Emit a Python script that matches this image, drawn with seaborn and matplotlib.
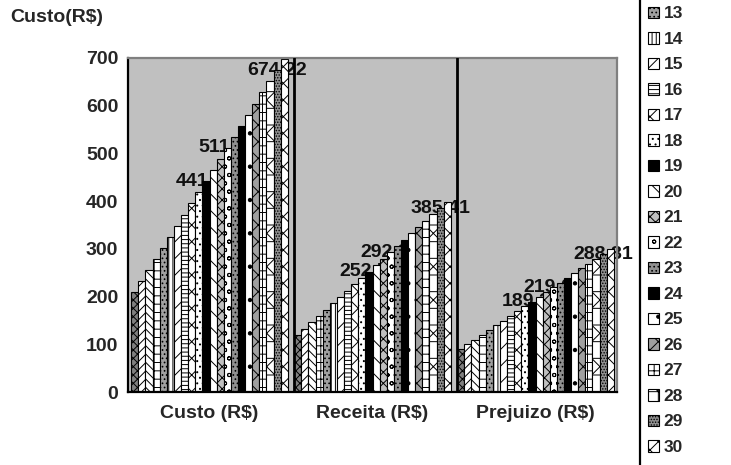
import matplotlib
matplotlib.use("Agg")
import matplotlib.pyplot as plt
from matplotlib.lines import Line2D
import pandas as pd
import seaborn as sns

# ---------------- data ----------------
categories = ["Custo (R$)", "Receita (R$)", "Prejuizo (R$)"]
series_names = ["9", "10", "11", "12", "13", "14", "15", "16", "17", "18", "19",
                "20", "21", "22", "23", "24", "25", "26", "27", "28", "29", "30"]
custo = [209.24, 232.49, 255.74, 278.99, 302.24, 325.49, 348.74, 371.98, 395.23,
         418.48, 441.73, 464.98, 488.23, 511.46, 534.73, 557.98, 581.23, 604.47,
         627.72, 650.97, 674.22, 697.47]
receita = [119.61, 132.90, 146.19, 159.48, 172.77, 186.06, 199.35, 212.64, 225.93,
           239.22, 252.51, 265.80, 279.09, 292.38, 305.67, 318.96, 332.25, 345.54,
           358.83, 372.12, 385.41, 398.70]
prejuizo = [89.63, 99.59, 109.55, 119.51, 129.47, 139.43, 149.39, 159.34, 169.30,
            179.26, 189.22, 199.18, 209.14, 219.08, 229.06, 239.02, 248.98, 258.93,
            268.89, 278.85, 288.81, 298.77]
labeled_series = ["19", "22", "29"]
y_ticks = [0, 100, 200, 300, 400, 500, 600, 700]

# ---------------- styles ----------------
face_colors = ["#808080", "#ffffff", "#ffffff", "#ffffff", "#a0a0a0", "#ffffff",
               "#ffffff", "#ffffff", "#ffffff", "#ffffff", "#000000", "#ffffff",
               "#c0c0c0", "#ffffff", "#909090", "#000000", "#ffffff", "#a0a0a0",
               "#ffffff", "#ffffff", "#909090", "#ffffff"]
hatches = ["xxxx", "////", "\\\\\\\\", "++", "....", "||||", "//", "----", "xx", "...",
           "", "\\\\", "xxx", "oo", "....", "", ".", "xx", "++", "x+", "......", "xx"]

sns.set_style("white")
plt.rcParams["font.family"] = ["Liberation Sans", "DejaVu Sans"]
plt.rcParams["font.weight"] = "bold"
plt.rcParams["hatch.linewidth"] = 0.7

rows = []
for cat, vals in zip(categories, [custo, receita, prejuizo]):
    for s, v in zip(series_names, vals):
        rows.append({"cat": cat, "serie": s, "valor": v})
df = pd.DataFrame(rows)

W, H = 731, 465
fig = plt.figure(figsize=(W / 100, H / 100), dpi=100)
ax = fig.add_axes([128 / W, 1 - 392 / H, (617 - 128) / W, (392 - 58) / H])

sns.barplot(data=df, x="cat", y="valor", hue="serie", order=categories,
            hue_order=series_names, palette=face_colors, width=0.96,
            edgecolor="black", linewidth=0.8, saturation=1, errorbar=None,
            legend=False, ax=ax)

for i, cont in enumerate(ax.containers):
    for p in cont:
        p.set_hatch(hatches[i])
        p.set_zorder(2)

# data labels (drawn behind the bars, like the original)
for ci, vals in enumerate([custo, receita, prejuizo]):
    for s in labeled_series:
        idx = series_names.index(s)
        p = ax.containers[idx][ci]
        txt = f"{vals[idx]:.2f}".replace(".", ",")
        ax.text(p.get_x() + p.get_width() / 2, p.get_height(), txt,
                ha="center", va="center", fontsize=14, fontweight="bold",
                color="#111111", zorder=1.5)

# separators at the start of groups 2 and 3
for ci in (1, 2):
    ax.axvline(ax.containers[0][ci].get_x(), color="black", lw=2, zorder=3)

ax.set_facecolor("#c0c0c0")
ax.set_xlim(-0.5, 2.5)
ax.set_ylim(0, 700)
ax.set_yticks(y_ticks)
ax.set_yticklabels([str(v) for v in y_ticks], fontsize=14, fontweight="bold")
ax.set_xticks([0, 1, 2])
ax.set_xticklabels(categories, fontsize=14, fontweight="bold")
ax.set_xticks([-0.5, 0.5, 1.5, 2.5], minor=True)
ax.tick_params(axis="x", which="major", length=0, pad=9)
ax.tick_params(axis="x", which="minor", length=6, width=1.5, direction="out", color="black")
ax.tick_params(axis="y", which="major", length=6, width=1.5, direction="out", pad=1, color="black")
ax.set_xlabel("")
ax.set_ylabel("")
for side in ("left", "bottom"):
    ax.spines[side].set_color("black")
    ax.spines[side].set_linewidth(1.6)
for side in ("top", "right"):
    ax.spines[side].set_color("#808080")
    ax.spines[side].set_linewidth(1.6)

fig.text(10 / W, 1 - 18 / H, "Custo(R$)", fontsize=14, fontweight="bold",
         ha="left", va="center")

handles = [ax.containers[i][0] for i in range(len(series_names))]
FS = 12.5


def make_legend(labelspacing, ytop):
    lg = fig.legend(handles, series_names, loc="upper left",
                    bbox_to_anchor=(640 / W, ytop), bbox_transform=fig.transFigure,
                    borderaxespad=0, frameon=False,
                    prop={"weight": "bold", "size": FS},
                    handlelength=0.65, handleheight=0.65, handletextpad=0.25,
                    borderpad=0.45, labelspacing=labelspacing)
    return lg


def centers(lg):
    fig.canvas.draw()
    r = fig.canvas.get_renderer()
    bb = [t.get_window_extent(r) for t in lg.get_texts()]
    return [(b.y0 + b.y1) / 2 for b in bb]


leg = make_legend(0.0, 1.0)
c = centers(leg)
pitch0 = c[4] - c[5]
ls = (25.5 - pitch0) / (FS * 100 / 72)
leg.remove()
leg = make_legend(ls, 1.0)
c = centers(leg)
dy = (H - 14) - c[4]
leg.remove()
leg = make_legend(ls, 1.0 + dy / H)

# legend box left border (the rest of the box lies outside the picture)
fig.add_artist(Line2D([640 / W, 640 / W], [0, 1], transform=fig.transFigure,
                      color="black", lw=1.6))

fig.savefig("out.png", dpi=100)
